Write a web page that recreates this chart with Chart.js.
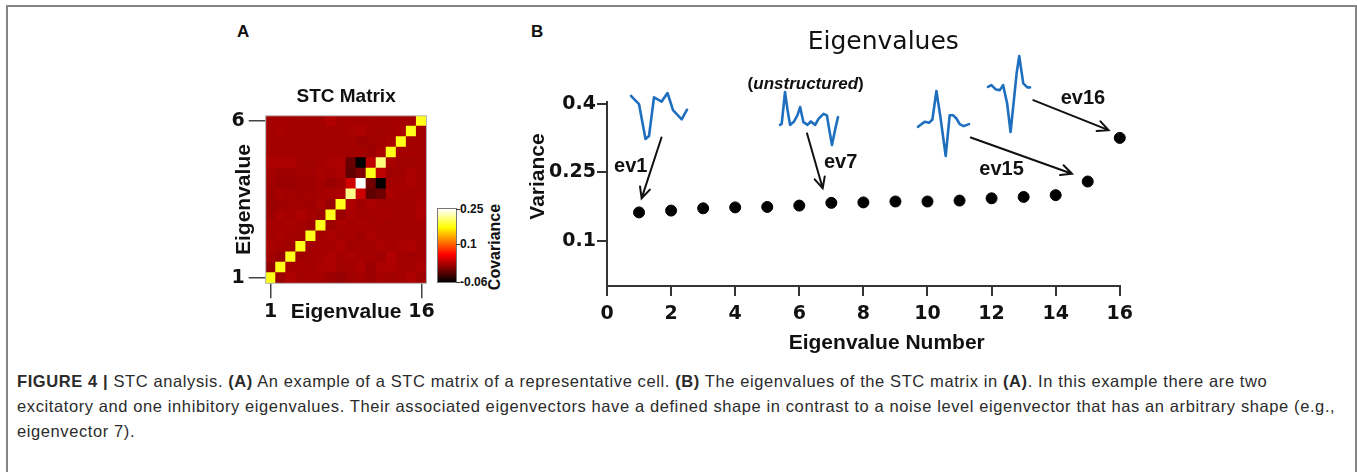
<!DOCTYPE html>
<html>
<head>
<meta charset="utf-8">
<script src="https://cdn.jsdelivr.net/npm/chart.js@4.4.0/dist/chart.umd.min.js"></script>
<style>
  html, body { margin: 0; padding: 0; background: #fff; }
  body { width: 1357px; height: 472px; overflow: hidden; position: relative; font-family: 'Liberation Sans', Arial, sans-serif; }
  .abs { position: absolute; }
  #frame { left: 6px; top: 5px; width: 1347px; height: 500px; border: 2px solid #858585; border-bottom: none; }
  .panelLabel { font-weight: bold; font-size: 17px; color: #111; }
  #cbar { left: 437px; top: 208px; width: 18px; height: 73px; border: 1px solid #777;
          background: linear-gradient(to top, #000 0%, #f00 37.5%, #ff0 75%, #fff 100%); }
  .cbTick { width: 4px; height: 1px; background: #333; }
  .cbLabel { font-weight: bold; font-size: 12px; color: #111; line-height: 12px; }
  #cbTitle { font-weight: bold; font-size: 16px; color: #111; transform: translate(-50%, -50%) rotate(-90deg); white-space: nowrap; }
  #caption { left: 17px; top: 369px; font-size: 16.5px; letter-spacing: 0.6px; line-height: 25px; color: #2b2b2b; white-space: nowrap; }
</style>
</head>
<body>
<div id="frame" class="abs"></div>
<div class="abs panelLabel" style="left:237px;top:22px">A</div>
<div class="abs panelLabel" style="left:531px;top:22px">B</div>

<canvas id="matrixCanvas" class="abs" width="212" height="258" style="left:225px;top:70px"></canvas>
<div id="cbar" class="abs"></div>
<div id="cbTitle" class="abs" style="left:495px;top:247px">Covariance</div>

<canvas id="eigenCanvas" class="abs" width="620" height="340" style="left:520px;top:20px"></canvas>

<div id="caption" class="abs">
<b>FIGURE 4 |</b> STC analysis. <b>(A)</b> An example of a STC matrix of a representative cell. <b>(B)</b> The eigenvalues of the STC matrix in <b>(A)</b>. In this example there are two<br>
excitatory and one inhibitory eigenvalues. Their associated eigenvectors have a defined shape in contrast to a noise level eigenvector that has an arbitrary shape (e.g.,<br>
eigenvector 7).
</div>

<script>
// ---- data: panel A (STC matrix, row 0 = eigenvalue 1 at the bottom) ----
const eigenIndex = [1, 2, 3, 4, 5, 6, 7, 8, 9, 10, 11, 12, 13, 14, 15, 16];
const stcMatrix = [
  [0.18, 0.011, 0.019, 0.015, 0.016, 0.015, 0.011, 0.009, 0.013, 0.015, 0.011, 0.016, 0.013, 0.015, 0.019, 0.013],
  [0.008, 0.18, 0.015, 0.016, 0.015, 0.017, 0.019, 0.013, 0.015, 0.019, 0.011, 0.017, 0.019, 0.015, 0.015, 0.017],
  [0.015, 0.009, 0.18, 0.013, 0.015, 0.016, 0.019, 0.015, 0.017, 0.015, 0.015, 0.013, 0.021, 0.015, 0.013, 0.015],
  [0.017, 0.015, 0.013, 0.18, 0.015, 0.016, 0.015, 0.019, 0.013, 0.015, 0.013, 0.017, 0.015, 0.017, 0.019, 0.015],
  [0.015, 0.017, 0.015, 0.013, 0.18, 0.015, 0.017, 0.015, 0.016, 0.013, 0.017, 0.015, 0.015, 0.014, 0.015, 0.015],
  [0.016, 0.015, 0.017, 0.015, 0.012, 0.18, 0.012, 0.017, 0.015, 0.017, 0.015, 0.015, 0.013, 0.015, 0.015, 0.015],
  [0.012, 0.017, 0.015, 0.019, 0.015, 0.011, 0.18, 0.010, 0.017, 0.015, 0.015, 0.016, 0.015, 0.015, 0.015, 0.019],
  [0.010, 0.012, 0.014, 0.014, 0.012, 0.017, 0.010, 0.18, 0.019, 0.013, 0.017, 0.015, 0.015, 0.015, 0.015, 0.017],
  [0.012, 0.016, 0.014, 0.012, 0.014, 0.015, 0.017, 0.019, 0.215, 0.033, -0.016, -0.010, 0.017, 0.015, 0.015, 0.015],
  [0.014, 0.010, 0.010, 0.012, 0.012, 0.015, 0.010, 0.014, 0.035, 0.25, -0.009, -0.058, 0.015, 0.015, 0.017, 0.015],
  [0.015, 0.012, 0.012, 0.014, 0.014, 0.017, 0.015, 0.017, -0.016, -0.002, 0.18, 0.027, 0.013, 0.013, 0.017, 0.015],
  [0.019, 0.019, 0.019, 0.015, 0.013, 0.015, 0.017, 0.019, -0.012, -0.06, 0.027, 0.21, 0.017, 0.013, 0.013, 0.015],
  [0.015, 0.015, 0.015, 0.015, 0.015, 0.013, 0.015, 0.015, 0.013, 0.015, 0.011, 0.017, 0.18, 0.015, 0.015, 0.015],
  [0.015, 0.015, 0.015, 0.015, 0.015, 0.015, 0.015, 0.015, 0.015, 0.011, 0.013, 0.015, 0.017, 0.18, 0.015, 0.015],
  [0.015, 0.017, 0.015, 0.015, 0.015, 0.015, 0.015, 0.015, 0.017, 0.019, 0.015, 0.013, 0.015, 0.017, 0.18, 0.015],
  [0.015, 0.015, 0.015, 0.015, 0.015, 0.015, 0.021, 0.015, 0.015, 0.015, 0.015, 0.015, 0.015, 0.015, 0.015, 0.18]
];
const matrixXTickLabels = ['1', '16'];
const matrixYTickValues = [0.5, 15.5];
const matrixYTickLabels = ['1', '6'];
const colorMin = -0.06;
const colorMax = 0.25;
const colorbarTicks = [0.25, 0.1, -0.06];
const colorbarTickLabels = ['0.25', '0.1', '-0.06'];

// ---- data: panel B (eigenvalue spectrum) ----
const eigenNumber = [1, 2, 3, 4, 5, 6, 7, 8, 9, 10, 11, 12, 13, 14, 15, 16];
const variance = [0.162, 0.166, 0.171, 0.173, 0.174, 0.177, 0.183, 0.184, 0.186, 0.186, 0.188, 0.193, 0.196, 0.200, 0.230, 0.326];
const xTickValues = [0, 2, 4, 6, 8, 10, 12, 14, 16];
const yTickValues = [0.1, 0.25, 0.4];
const yTickLabels = ['0.1', '0.25', '0.4'];

// eigenvector shapes (sample position, amplitude)
const ev1Time = [0, 8, 14.5, 18, 23, 30.7, 36.5, 42, 50.7, 56];
const ev1Amp = [0.45, -0.37, -3.83, -3.53, 0.3, -0.12, 0.73, -0.97, -1.88, -0.93];
const ev7Time = [0, 1.7, 5, 7.3, 10, 14, 17.3, 20, 23.3, 27.3, 30.7, 35, 38.3, 43.3, 46.7, 48.3, 51.7, 55, 57.7];
const ev7Amp = [-2.47, -2.37, 0.8, -0.87, -2.47, -2.13, -1.53, -0.7, -2.2, -2.47, -2.13, -2.47, -1.87, -1.37, -1.53, -2.53, -4.47, -2.87, -1.7];
const ev15Time = [0, 3.4, 6.7, 11, 14.4, 18.4, 22.4, 27.7, 31.7, 35, 38.4, 41.7, 45.7, 51];
const ev15Amp = [-2.67, -2.4, -2.17, -2.27, -1.93, 0.93, -1.67, -5.6, -1.5, -1.5, -1.83, -2.4, -2.6, -2.4];
const ev16Time = [0, 3.4, 7.7, 11.7, 15, 19, 22.4, 25.7, 28.4, 31, 35, 39, 41.7];
const ev16Amp = [1.33, 1.5, 1.07, 1, 1.5, -0.33, -3.17, 0, 2.67, 4.4, 1.67, 1.27, 1.27];

// ---- helpers ----
const boldTick = { family: "'DejaVu Sans', sans-serif", size: 19, weight: 'bold' };
const boldTitle = { family: "'Liberation Sans', Arial, sans-serif", size: 21, weight: 'bold' };

function clamp01(v) { return Math.max(0, Math.min(1, v)); }

// matlab style "hot" colour map
function hotColor(v) {
  const t = clamp01((v - colorMin) / (colorMax - colorMin));
  const r = Math.round(255 * clamp01(t / 0.375));
  const g = Math.round(255 * clamp01((t - 0.375) / 0.375));
  const b = Math.round(255 * clamp01((t - 0.75) / 0.25));
  return `rgb(${r},${g},${b})`;
}

// colorbar ticks (html, next to the gradient)
colorbarTicks.forEach((v, i) => {
  const y = 209 + 73 * (1 - (v - colorMin) / (colorMax - colorMin));
  const tick = document.createElement('div');
  tick.className = 'abs cbTick';
  tick.style.left = '456px';
  tick.style.top = (y - 0.5) + 'px';
  document.body.appendChild(tick);
  const lab = document.createElement('div');
  lab.className = 'abs cbLabel';
  lab.textContent = colorbarTickLabels[i];
  lab.style.left = '460px';
  lab.style.top = (y - 6) + 'px';
  document.body.appendChild(lab);
});

const matrixOutline = {
  id: 'matrixOutline',
  afterDraw(chart) {
    const { ctx, chartArea: a } = chart;
    ctx.save();
    ctx.strokeStyle = '#b5b5b5';
    ctx.lineWidth = 1;
    ctx.strokeRect(a.left, a.top, a.width, a.height);
    ctx.restore();
  }
};

// === Panel A: STC matrix as a stacked bar heat map ===
new Chart(document.getElementById('matrixCanvas'), {
  type: 'bar',
  data: {
    labels: eigenIndex.map(String),
    datasets: stcMatrix.map((row, r) => ({
      label: 'row ' + eigenIndex[r],
      data: row.map(() => 1),
      backgroundColor: row.map(hotColor),
      borderWidth: 0,
      inflateAmount: 0.5,
      barPercentage: 1,
      categoryPercentage: 1
    }))
  },
  options: {
    animation: false,
    responsive: false,
    devicePixelRatio: 1,
    events: [],
    layout: { padding: { top: 0, right: 3.7, bottom: 0, left: 0 } },
    plugins: {
      legend: { display: false },
      tooltip: { enabled: false },
      title: {
        display: true, text: 'STC Matrix', fullSize: false, color: '#111',
        font: { family: "'Liberation Sans', Arial, sans-serif", size: 19, weight: 'bold' },
        padding: { top: 15, bottom: 8 }
      }
    },
    scales: {
      x: {
        stacked: true,
        border: { display: false },
        grid: {
          offset: false, drawOnChartArea: false, tickLength: 15, lineWidth: 1.5,
          color: ctx => (ctx.index === 0 || ctx.index === eigenIndex.length - 1) ? '#444' : 'rgba(0,0,0,0)'
        },
        ticks: {
          autoSkip: false, maxRotation: 0, padding: 2, color: '#111', font: boldTick,
          callback: (v, i) => i === 0 ? matrixXTickLabels[0] : (i === eigenIndex.length - 1 ? matrixXTickLabels[1] : '')
        },
        title: { display: true, text: 'Eigenvalue', color: '#111', font: boldTitle, padding: { top: 0, bottom: 3.4 } },
        afterFit: s => { s.height = 44.7; }
      },
      y: {
        stacked: true, min: 0, max: eigenIndex.length,
        border: { display: false },
        afterBuildTicks: s => { s.ticks = matrixYTickValues.map(v => ({ value: v })); },
        grid: { drawOnChartArea: false, tickLength: 17, lineWidth: 1.5, color: '#444' },
        ticks: { padding: 4, color: '#111', font: boldTick, callback: v => matrixYTickLabels[matrixYTickValues.indexOf(v)] },
        title: { display: true, text: 'Eigenvalue', color: '#111', font: boldTitle, padding: { top: 6.4, bottom: 0 } },
        afterFit: s => { s.width = 40.7; }
      }
    }
  },
  plugins: [matrixOutline]
});

// === Panel B: notes and arrows drawn in data coordinates ===
const eigenArrows = [
  { from: [1.70, 0.327], to: [1.08, 0.193] },
  { from: [6.24, 0.336], to: [6.73, 0.215] },
  { from: [11.35, 0.327], to: [14.51, 0.247] },
  { from: [13.30, 0.409], to: [15.65, 0.343] }
];
const eigenNotes = [
  { text: 'ev1', at: [0.74, 0.262] },
  { text: 'ev7', at: [7.29, 0.271] },
  { text: 'ev15', at: [12.31, 0.2555] },
  { text: 'ev16', at: [14.85, 0.412] }
];

function drawArrow(ctx, x0, y0, x1, y1) {
  const ang = Math.atan2(y1 - y0, x1 - x0);
  const head = 12, spread = Math.PI / 7;
  ctx.beginPath();
  ctx.moveTo(x0, y0);
  ctx.lineTo(x1, y1);
  ctx.moveTo(x1 - head * Math.cos(ang - spread), y1 - head * Math.sin(ang - spread));
  ctx.lineTo(x1, y1);
  ctx.lineTo(x1 - head * Math.cos(ang + spread), y1 - head * Math.sin(ang + spread));
  ctx.stroke();
}

const eigenDecor = {
  id: 'eigenDecor',
  afterDraw(chart) {
    const { ctx, scales: { x, y } } = chart;
    ctx.save();
    // chart title
    ctx.fillStyle = '#111';
    ctx.textAlign = 'center';
    ctx.textBaseline = 'middle';
    ctx.font = "25px 'DejaVu Sans', sans-serif";
    ctx.fillText('Eigenvalues', x.getPixelForValue(8.62), y.getPixelForValue(0.535));

    // "(unstructured)" with italic middle part
    const parts = [['(', 'bold'], ['unstructured', 'italic bold'], [')', 'bold']];
    let total = 0;
    parts.forEach(p => { ctx.font = `${p[1]} 17px 'Liberation Sans', Arial, sans-serif`; total += ctx.measureText(p[0]).width; });
    let px = x.getPixelForValue(6.2) - total / 2;
    const py = y.getPixelForValue(0.445);
    ctx.textAlign = 'left';
    parts.forEach(p => {
      ctx.font = `${p[1]} 17px 'Liberation Sans', Arial, sans-serif`;
      ctx.fillText(p[0], px, py);
      px += ctx.measureText(p[0]).width;
    });

    ctx.textAlign = 'center';
    ctx.font = "bold 20px 'Liberation Sans', Arial, sans-serif";
    eigenNotes.forEach(n => ctx.fillText(n.text, x.getPixelForValue(n.at[0]), y.getPixelForValue(n.at[1])));

    ctx.strokeStyle = '#111';
    ctx.lineWidth = 2;
    ctx.lineCap = 'round';
    eigenArrows.forEach(a => drawArrow(ctx,
      x.getPixelForValue(a.from[0]), y.getPixelForValue(a.from[1]),
      x.getPixelForValue(a.to[0]), y.getPixelForValue(a.to[1])));
    ctx.restore();
  }
};

new Chart(document.getElementById('eigenCanvas'), {
  type: 'scatter',
  data: {
    datasets: [{
      data: eigenNumber.map((n, i) => ({ x: n, y: variance[i] })),
      backgroundColor: '#000',
      borderColor: '#000',
      pointRadius: 5.5,
      pointHoverRadius: 5.5,
      clip: false
    }]
  },
  options: {
    animation: false,
    responsive: false,
    devicePixelRatio: 1,
    events: [],
    layout: { padding: { top: 82, right: 17, bottom: 0, left: 0 } },
    plugins: { legend: { display: false }, tooltip: { enabled: false } },
    scales: {
      x: {
        type: 'linear', min: 0, max: 16,
        afterBuildTicks: s => { s.ticks = xTickValues.map(v => ({ value: v })); },
        border: { color: '#333', width: 2 },
        grid: { drawOnChartArea: false, tickLength: 10, lineWidth: 2, color: '#333' },
        ticks: { padding: 7, color: '#111', font: boldTick },
        title: { display: true, text: '        Eigenvalue Number', color: '#111', font: boldTitle, padding: { top: 0, bottom: 4.4 } },
        afterFit: s => { s.height = 74; }
      },
      y: {
        min: 0, max: 0.405,
        afterBuildTicks: s => { s.ticks = yTickValues.map(v => ({ value: v })); },
        border: { color: '#333', width: 2 },
        grid: { drawOnChartArea: false, tickLength: 10, lineWidth: 2, color: '#333' },
        ticks: { padding: 1, color: '#111', font: boldTick, callback: v => yTickLabels[yTickValues.indexOf(v)] },
        title: { display: true, text: '      Variance', color: '#111', font: boldTitle, padding: { top: 5.4, bottom: 0 } },
        afterFit: s => { s.width = 87; }
      }
    }
  },
  plugins: [eigenDecor]
});

// === insets: small eigenvector traces ===
function makeInset(time, amp, left, top) {
  const pad = 3, pxPerTime = 1, pxPerAmp = 10;
  const tMin = Math.min(...time), tMax = Math.max(...time);
  const aMin = Math.min(...amp), aMax = Math.max(...amp);
  const cv = document.createElement('canvas');
  cv.className = 'abs';
  cv.width = Math.round((tMax - tMin) * pxPerTime + 2 * pad);
  cv.height = Math.round((aMax - aMin) * pxPerAmp + 2 * pad);
  cv.style.left = (left - pad) + 'px';
  cv.style.top = (top - pad) + 'px';
  document.body.appendChild(cv);
  new Chart(cv, {
    type: 'line',
    data: { datasets: [{ data: time.map((t, i) => ({ x: t, y: amp[i] })), borderColor: '#1f6fbf', borderWidth: 2.6,
                         pointRadius: 0, tension: 0, borderJoinStyle: 'round', borderCapStyle: 'round', clip: false }] },
    options: {
      animation: false, responsive: false, devicePixelRatio: 1, events: [],
      layout: { padding: pad },
      plugins: { legend: { display: false }, tooltip: { enabled: false } },
      scales: {
        x: { type: 'linear', display: false, min: tMin, max: tMax },
        y: { type: 'linear', display: false, min: aMin, max: aMax }
      }
    }
  });
}

makeInset(ev1Time, ev1Amp, 631, 92.7);
makeInset(ev7Time, ev7Amp, 780, 92);
makeInset(ev15Time, ev15Amp, 918.3, 90.7);
makeInset(ev16Time, ev16Amp, 988.3, 56);
</script>
</body>
</html>
